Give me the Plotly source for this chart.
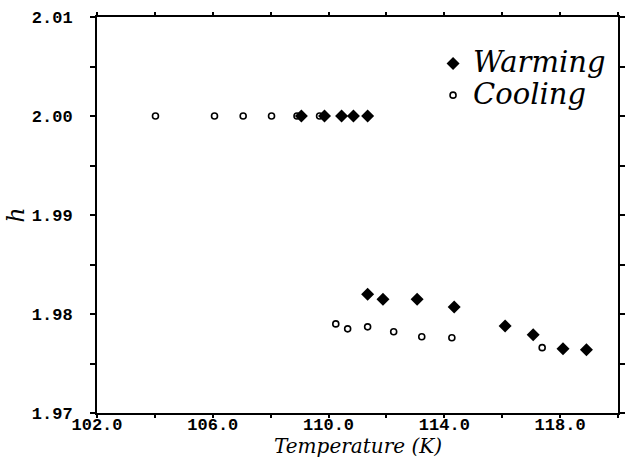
import plotly.graph_objects as go

warm_T = [109.06, 109.86, 110.45, 110.86, 111.35,
          111.35, 111.88, 113.06, 114.34, 116.10, 117.07, 118.10, 118.91]
warm_h = [2.0000, 2.0000, 2.0000, 2.0000, 2.0000,
          1.9820, 1.9815, 1.9815, 1.9807, 1.9788, 1.9779, 1.9765, 1.9764]

cool_T = [104.02, 106.06, 107.05, 108.03, 108.91, 109.69,
          110.25, 110.66, 111.35, 112.25, 113.22, 114.26, 117.38]
cool_h = [2.0000, 2.0000, 2.0000, 2.0000, 2.0000, 2.0000,
          1.9790, 1.9785, 1.9787, 1.9782, 1.9777, 1.9776, 1.9766]

x_tickvals = [102, 104, 106, 108, 110, 112, 114, 116, 118, 120]
x_ticktext = ["102.0", "", "106.0", "", "110.0", "", "114.0", "", "118.0", ""]
y_tickvals = [1.97, 1.975, 1.98, 1.985, 1.99, 1.995, 2.00, 2.005, 2.01]
y_ticktext = ["1.97", "", "1.98", "", "1.99", "", "2.00", "", "2.01"]

fig = go.Figure()
fig.add_trace(go.Scatter(
    x=warm_T, y=warm_h, mode="markers",
    name='<span style="font-size:29px">Warming</span>',
    marker=dict(symbol="diamond", size=10, color="black"),
))
fig.add_trace(go.Scatter(
    x=cool_T, y=cool_h, mode="markers",
    name='<span style="font-size:29px">Cooling</span>',
    marker=dict(symbol="circle-open", size=6, color="black", line=dict(width=1.6)),
))

tickfont = dict(family="Liberation Mono", size=17, color="black", weight="bold")
fig.update_layout(
    width=626, height=459,
    margin=dict(l=97, r=1, t=17, b=46),
    paper_bgcolor="white", plot_bgcolor="white",
    showlegend=True,
    legend=dict(
        x=0.645, y=0.935, xanchor="left", yanchor="top",
        font=dict(family="DejaVu Serif", size=22, color="black", style="italic"),
        bgcolor="rgba(0,0,0,0)", itemwidth=30, tracegroupgap=0,
    ),
    xaxis=dict(
        range=[102, 120], showgrid=False, zeroline=False,
        showline=True, linecolor="black", linewidth=2, mirror="ticks",
        ticks="outside", ticklen=3, tickwidth=1.5, tickcolor="black",
        ticklabelstandoff=-8,
        tickvals=x_tickvals, ticktext=x_ticktext, tickfont=tickfont,
    ),
    yaxis=dict(
        range=[1.97, 2.01], showgrid=False, zeroline=False,
        showline=True, linecolor="black", linewidth=2, mirror="ticks",
        ticks="outside", ticklen=5, tickwidth=1.5, tickcolor="black",
        ticklabelstandoff=14,
        tickvals=y_tickvals, ticktext=y_ticktext, tickfont=tickfont,
        title=dict(text="h", standoff=0,
                   font=dict(family="DejaVu Serif", size=24, color="black", style="italic")),
    ),
    annotations=[dict(
        text="Temperature (K)", xref="paper", yref="paper", x=0.5, y=0,
        xanchor="center", yanchor="bottom", yshift=-46, showarrow=False,
        borderpad=0,
        font=dict(family="DejaVu Serif", size=20, color="black", style="italic"),
    )],
)

fig.write_html("out.html")
